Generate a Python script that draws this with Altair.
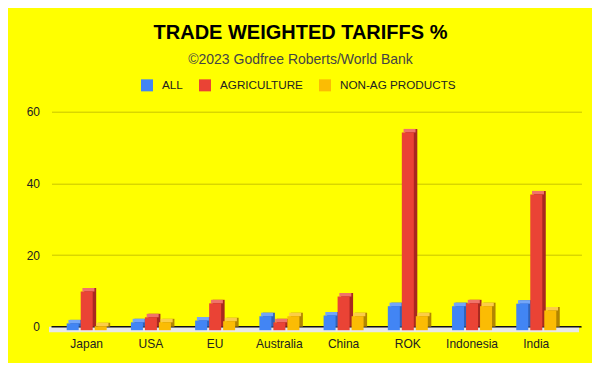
import altair as alt
import pandas as pd

countries = ["Japan", "USA", "EU", "Australia", "China", "ROK", "Indonesia", "India"]
series = ["ALL", "AGRICULTURE", "NON-AG PRODUCTS"]
all_vals = [1.9, 2.2, 2.7, 3.9, 4.1, 6.7, 6.7, 7.4]
agri_vals = [10.8, 3.6, 7.5, 2.2, 9.4, 55.2, 7.5, 37.9]
nonag_vals = [1.1, 2.2, 2.5, 3.9, 3.9, 3.9, 6.7, 5.5]

front_colors = ["#4285F4", "#EA4335", "#FBBC04"]
side_colors = ["#2F62B8", "#A8291F", "#B28500"]
top_colors = ["#74A6F7", "#F0736A", "#FCCD47"]
slot_offsets = [-14, 0, 14]

rows = []
for s, vals in zip(series, [all_vals, agri_vals, nonag_vals]):
    for c, v in zip(countries, vals):
        rows.append({"country": c, "series": s, "value": v})
df = pd.DataFrame(rows)

FONT = "Liberation Sans"
W, H = 530, 215
DEPTH = 3.5
BAR_W = 12

x_enc = alt.X(
    "country:N",
    sort=countries,
    scale=alt.Scale(paddingInner=0, paddingOuter=0.126, align=0.19),
    axis=alt.Axis(title=None, labelAngle=0, labelPadding=12, domain=False,
                  ticks=False, tickSize=0, grid=False, labelFontSize=12,
                  labelColor="#222222", labelFont=FONT),
)
y_scale = alt.Scale(domain=[0, 60], nice=False)
y_axis = alt.Axis(title=None, values=[0, 20, 40, 60], grid=True,
                  gridColor="#C8C400", gridWidth=1, domain=False, ticks=False,
                  tickSize=0, labelPadding=12, labelFontSize=12,
                  labelColor="#222222", labelFont=FONT)
y_enc = alt.Y("value:Q", scale=y_scale, axis=y_axis)

base = alt.Chart(df)
one_row = "datum.country == 'Japan' && datum.series == 'ALL'"

floor = base.mark_rect(color="#E8E8E8", y2Offset=5.5).encode(
    x=alt.value(-2.5), x2=alt.value(W - 2.5),
    y=alt.Y("zero:Q", scale=y_scale, axis=y_axis), y2=alt.Y2("zero:Q"),
).transform_calculate(zero="0").transform_filter(one_row)

baseline = base.mark_rule(color="#111111", strokeWidth=1.5).encode(
    y=alt.Y("zero:Q", scale=y_scale, axis=y_axis),
).transform_calculate(zero="0").transform_filter(one_row)

layers = [floor, baseline]
for i, s in enumerate(series):
    flt = f"datum.series == '{s}'"
    off = slot_offsets[i]
    side = base.mark_bar(width=BAR_W, xOffset=off + DEPTH, yOffset=0,
                         y2Offset=0, color=side_colors[i]).encode(
        x=x_enc, y=y_enc).transform_filter(flt)
    top = base.mark_bar(width=BAR_W, xOffset=off + DEPTH / 2, yOffset=0,
                        y2Offset=DEPTH, color=top_colors[i]).encode(
        x=x_enc, y=y_enc, y2=alt.Y2("value:Q")).transform_filter(flt)
    front = base.mark_bar(width=BAR_W, xOffset=off, yOffset=DEPTH,
                          y2Offset=DEPTH).encode(
        x=x_enc, y=y_enc,
        color=alt.Color("series:N",
                        scale=alt.Scale(domain=series, range=front_colors),
                        legend=alt.Legend(
                            title=None, orient="none", direction="horizontal",
                            legendX=89.5, legendY=-32.5, symbolType="square",
                            symbolSize=144, symbolStrokeWidth=0,
                            labelFontSize=11.7, labelFont=FONT,
                            labelColor="#222222", labelOffset=9,
                            columnPadding=16, padding=0)),
    ).transform_filter(flt)
    layers += [side, top, front]

chart = alt.layer(*layers).properties(
    width=W,
    height=H,
    autosize=alt.AutoSizeParams(type="none"),
    padding={"left": 43.5, "top": 103.7, "right": 10, "bottom": 36},
    background="#FFFF00",
    title=alt.TitleParams(
        text="TRADE WEIGHTED TARIFFS %",
        subtitle="©2023 Godfree Roberts/World Bank",
        font=FONT, fontSize=20, fontWeight="bold", color="#000000",
        subtitleFont=FONT, subtitleFontSize=14, subtitleColor="#444444",
        subtitlePadding=10, anchor="middle", frame="group", dx=-16, offset=12,
    ),
).configure_view(stroke=None)

chart.save("out.html", embed_options={"renderer": "svg", "actions": False})
